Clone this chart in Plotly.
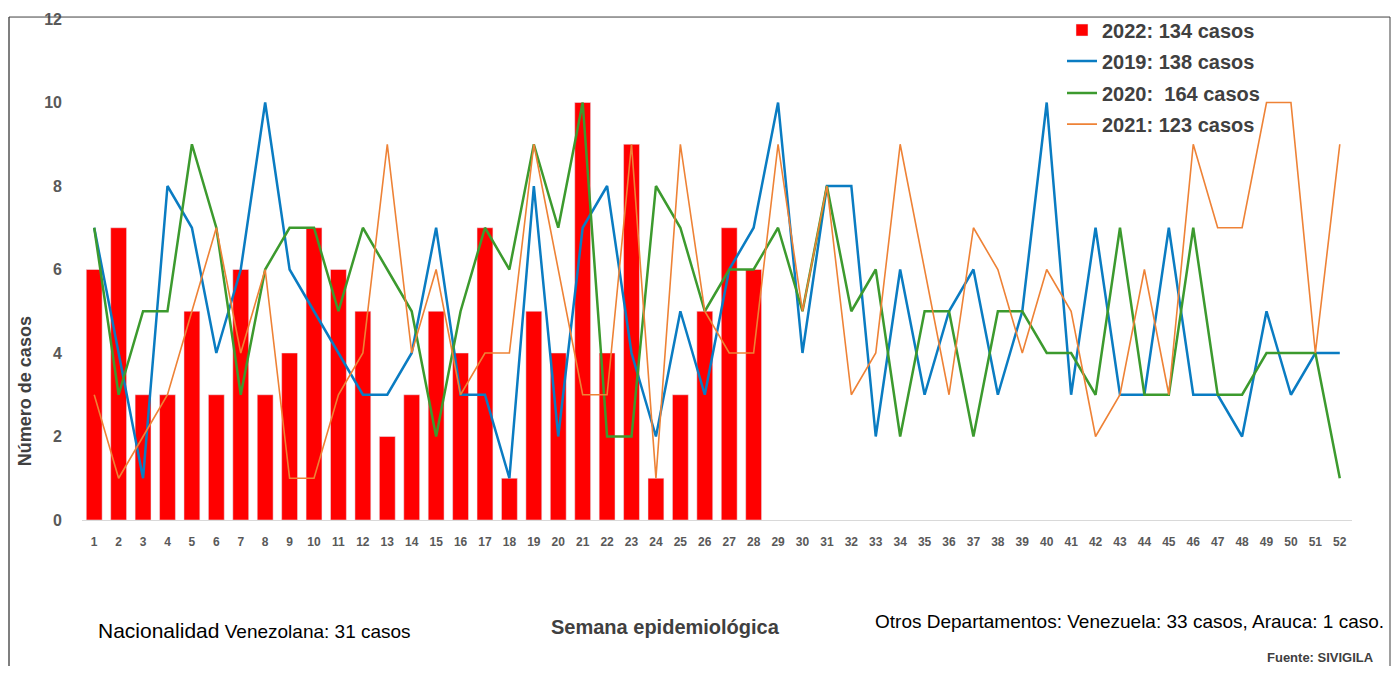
import plotly.graph_objects as go

weeks = list(range(1, 53))
weeks_2022 = list(range(1, 29))
cases_2022 = [6, 7, 3, 3, 5, 3, 6, 3, 4, 7, 6, 5, 2, 3, 5, 4, 7, 1, 5, 4, 10, 4, 9, 1, 3, 5, 7, 6]
cases_2019 = [7, 4, 1, 8, 7, 4, 6, 10, 6, 5, 4, 3, 3, 4, 7, 3, 3, 1, 8, 2, 7, 8, 4, 2, 5, 3,
              6, 7, 10, 4, 8, 8, 2, 6, 3, 5, 6, 3, 5, 10, 3, 7, 3, 3, 7, 3, 3, 2, 5, 3, 4, 4]
cases_2020 = [7, 3, 5, 5, 9, 7, 3, 6, 7, 7, 5, 7, 6, 5, 2, 5, 7, 6, 9, 7, 10, 2, 2, 8, 7, 5,
              6, 6, 7, 5, 8, 5, 6, 2, 5, 5, 2, 5, 5, 4, 4, 3, 7, 3, 3, 7, 3, 3, 4, 4, 4, 1]
cases_2021 = [3, 1, 2, 3, 5, 7, 4, 6, 1, 1, 3, 4, 9, 4, 6, 3, 4, 4, 9, 6, 3, 3, 9, 1, 9, 5,
              4, 4, 9, 5, 8, 3, 4, 9, 6, 3, 7, 6, 4, 6, 5, 2, 3, 6, 3, 9, 7, 7, 10, 10, 4, 9]

names = ["2022: 134 casos", "2019: 138 casos", "2020:  164 casos", "2021: 123 casos"]
y_ticks = [0, 2, 4, 6, 8, 10, 12]

# page has an 8px body margin: size the figure so the page fits the 1400x674 window
OFF = 8
W, H = 1400 - 2 * OFF, 674 - 2 * OFF
# vertical calibration (page y -> figure y) measured from earlier renders
VA, VB = 16.0, 0.984

def fy(p):
    return (p - VA) / VB

PL, PR, PT, PB = 82, 1352, 19, 520  # plot area in page pixels
L = PL - OFF
R = W - (PR - OFF)
T = round(fy(PT))
B = round(H - fy(PB))
pw, ph = W - L - R, H - T - B

def px_x(p):
    return (p - OFF - L) / pw

def px_y(p):
    return (H - B - fy(p)) / ph

fig = go.Figure()
fig.add_trace(go.Bar(x=weeks_2022, y=cases_2022, name=names[0], marker_color="#FF0000",
                     width=0.65, legend="legend"))
fig.add_trace(go.Scatter(x=weeks, y=cases_2019, name=names[1], mode="lines",
                         line=dict(color="#0A7CC2", width=2.5), legend="legend2"))
fig.add_trace(go.Scatter(x=weeks, y=cases_2020, name=names[2], mode="lines",
                         line=dict(color="#3C9A2E", width=2.5), legend="legend3"))
fig.add_trace(go.Scatter(x=weeks, y=cases_2021, name=names[3], mode="lines",
                         line=dict(color="#EE8236", width=1.6), legend="legend4"))

grey = "#595959"
leg_font = dict(family="Liberation Sans, Arial", size=20, color="#404040", weight="bold")
leg_common = dict(xanchor="left", yanchor="middle", font=leg_font,
                  bgcolor="rgba(0,0,0,0)", itemwidth=30)
leg_y = [30, 61, 93, 124]
leg_x = 1062

fig.update_layout(
    width=W, height=H,
    margin=dict(l=L, r=R, t=T, b=B),
    plot_bgcolor="white", paper_bgcolor="white",
    showlegend=True,
    legend=dict(x=px_x(leg_x), y=px_y(leg_y[0]), **leg_common),
    legend2=dict(x=px_x(leg_x), y=px_y(leg_y[1]), **leg_common),
    legend3=dict(x=px_x(leg_x), y=px_y(leg_y[2]), **leg_common),
    legend4=dict(x=px_x(leg_x), y=px_y(leg_y[3]), **leg_common),
    xaxis=dict(range=[0.5, 52.5], tickmode="array", tickvals=weeks,
               ticktext=[str(w) for w in weeks], showgrid=False, showline=True,
               linecolor="#D9D9D9", linewidth=1, ticks="", zeroline=False,
               ticklabelstandoff=11,
               tickfont=dict(family="Liberation Sans, Arial", size=12, color=grey,
                             weight="bold")),
    yaxis=dict(range=[0, 12], tickvals=y_ticks, showgrid=False, showline=False,
               zeroline=False, ticks="", ticklabelstandoff=19,
               tickfont=dict(family="Liberation Sans, Arial", size=16, color=grey,
                             weight="bold")),
    bargap=0.35,
)

ann_font = "Liberation Sans, Arial"
fig.add_annotation(xref="paper", yref="paper", x=px_x(25), y=px_y(391), xanchor="center",
                   yanchor="middle", showarrow=False, textangle=-90,
                   text="<b>Número de casos</b>",
                   font=dict(family=ann_font, size=18, color="#404040"))
fig.add_annotation(xref="paper", yref="paper", x=px_x(96), y=px_y(630), xanchor="left",
                   yanchor="middle", showarrow=False,
                   text="<span style='font-size:21px'>Nacionalidad</span> Venezolana: 31 casos",
                   font=dict(family=ann_font, size=19, color="black"))
fig.add_annotation(xref="paper", yref="paper", x=px_x(665), y=px_y(627), xanchor="center",
                   yanchor="middle", showarrow=False, text="<b>Semana epidemiológica</b>",
                   font=dict(family=ann_font, size=20, color="#404040"))
fig.add_annotation(xref="paper", yref="paper", x=px_x(1386), y=px_y(621), xanchor="right",
                   yanchor="middle", showarrow=False,
                   text="Otros Departamentos: Venezuela: 33 casos, Arauca: 1 caso.",
                   font=dict(family=ann_font, size=19, color="black"))
fig.add_annotation(xref="paper", yref="paper", x=px_x(1376), y=px_y(657), xanchor="right",
                   yanchor="middle", showarrow=False, text="<b>Fuente: SIVIGILA</b>",
                   font=dict(family=ann_font, size=13, color="#404040"))
# frame: left, top and right edges
top_frame = (H - B - 1) / ph
fig.add_shape(type="line", xref="paper", yref="paper", x0=px_x(9), x1=px_x(9),
              y0=px_y(680), y1=top_frame, line=dict(color="#7F7F7F", width=2))
fig.add_shape(type="line", xref="paper", yref="paper", x0=px_x(9), x1=px_x(1390),
              y0=top_frame, y1=top_frame, line=dict(color="#404040", width=1))
fig.add_shape(type="line", xref="paper", yref="paper", x0=px_x(1390), x1=px_x(1390),
              y0=px_y(680), y1=top_frame, line=dict(color="#404040", width=1))

fig.write_html("out.html")
